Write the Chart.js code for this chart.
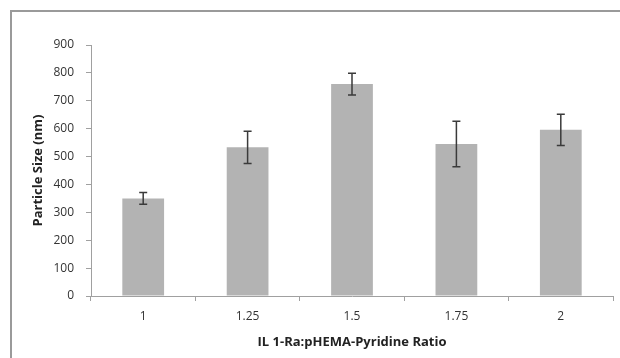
<!DOCTYPE html>
<html>
<head>
<meta charset="utf-8">
<script src="https://cdn.jsdelivr.net/npm/chart.js@4"></script>
<style>
  html, body { margin: 0; padding: 0; background: #fff; }
  #wrap { width: 620px; height: 358px; }
</style>
</head>
<body>
<div id="wrap"><canvas id="myChart" width="620" height="358"></canvas></div>
<script>
const ratios = ['1', '1.25', '1.5', '1.75', '2'];
const particleSize = [350, 533, 760, 545, 596];
const sizeError = [21, 58, 39, 82, 56];
const yTicks = [0, 100, 200, 300, 400, 500, 600, 700, 800, 900];

const ctx = document.getElementById('myChart');

// frame around the chart, only left and top edges show in the picture
const framePlugin = {
    id: 'frame',
    beforeDraw(chart) {
        const c = chart.ctx;
        c.save();
        c.strokeStyle = '#9a9a9a';
        c.lineWidth = 2;
        c.beginPath();
        c.moveTo(11, 358);
        c.lineTo(11, 11);
        c.lineTo(620, 11);
        c.stroke();
        c.restore();
    }
};

const errorBarPlugin = {
    id: 'errorBars',
    afterDatasetsDraw(chart) {
        const c = chart.ctx;
        const y = chart.scales.y;
        const meta = chart.getDatasetMeta(0);
        c.save();
        c.strokeStyle = '#3a3a3a';
        c.lineWidth = 1.5;
        meta.data.forEach((bar, i) => {
            const top = y.getPixelForValue(particleSize[i] + sizeError[i]);
            const bottom = y.getPixelForValue(particleSize[i] - sizeError[i]);
            c.beginPath();
            c.moveTo(bar.x, top);
            c.lineTo(bar.x, bottom);
            c.moveTo(bar.x - 4, top);
            c.lineTo(bar.x + 4, top);
            c.moveTo(bar.x - 4, bottom);
            c.lineTo(bar.x + 4, bottom);
            c.stroke();
        });
        c.restore();
    }
};

new Chart(ctx, {
    type: 'bar',
    data: {
        labels: ratios,
        datasets: [{
            data: particleSize,
            backgroundColor: '#b3b3b3',
            borderWidth: 0,
            barPercentage: 0.4,
            categoryPercentage: 1
        }]
    },
    options: {
        responsive: false,
        animation: false,
        layout: {
            padding: { left: 20, top: 45, right: 7, bottom: 4 }
        },
        scales: {
            x: {
                afterFit(scale) {
                    scale.height = 58;
                },
                grid: {
                    display: true,
                    drawOnChartArea: false,
                    tickLength: 5,
                    color: '#a0a0a0'
                },
                border: { color: '#a0a0a0', width: 1 },
                ticks: {
                    color: '#333',
                    padding: 8,
                    font: { family: 'Open Sans', size: 12 }
                },
                title: {
                    display: true,
                    text: 'IL 1-Ra:pHEMA-Pyridine Ratio',
                    color: '#222',
                    padding: { top: 4, bottom: 4 },
                    font: { family: 'Open Sans', size: 13, weight: 'bold' }
                }
            },
            y: {
                min: 0,
                max: 900,
                afterBuildTicks(scale) {
                    scale.ticks = yTicks.map(v => ({ value: v }));
                },
                afterFit(scale) {
                    scale.width = 71;
                },
                grid: {
                    display: true,
                    drawOnChartArea: false,
                    tickLength: 5,
                    color: '#a0a0a0'
                },
                border: { color: '#a0a0a0', width: 1 },
                ticks: {
                    color: '#333',
                    padding: 12,
                    font: { family: 'Open Sans', size: 12 }
                },
                title: {
                    display: true,
                    text: 'Particle Size (nm)',
                    color: '#222',
                    padding: 10,
                    font: { family: 'Open Sans', size: 13, weight: 'bold' }
                }
            }
        },
        plugins: {
            legend: { display: false },
            tooltip: { enabled: false }
        }
    },
    plugins: [framePlugin, errorBarPlugin]
});
</script>
</body>
</html>
